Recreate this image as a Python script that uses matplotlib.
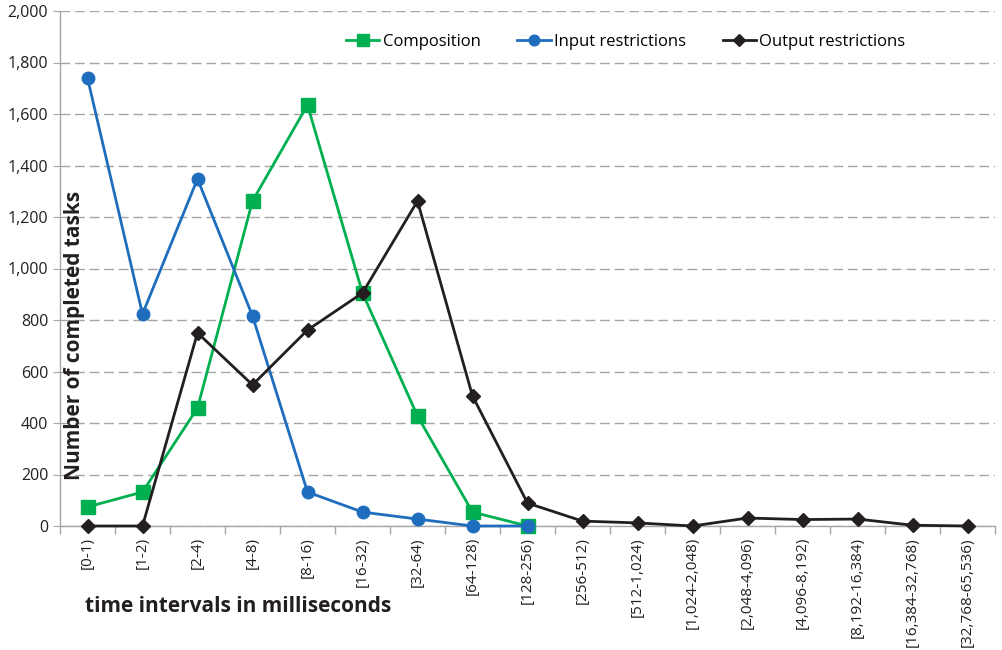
import numpy as np
import matplotlib.pyplot as plt
from matplotlib.ticker import FuncFormatter, FixedLocator

plt.rcParams['font.family'] = ['Open Sans', 'DejaVu Sans']

intervals = ["[0-1)", "[1-2)", "[2-4)", "[4-8)", "[8-16)", "[16-32)", "[32-64)",
             "[64-128)", "[128-256)", "[256-512)", "[512-1,024)", "[1,024-2,048)",
             "[2,048-4,096)", "[4,096-8,192)", "[8,192-16,384)", "[16,384-32,768)",
             "[32,768-65,536)"]

composition = [74, 132, 458, 1262, 1635, 905, 427, 54, 0]
input_restr = [1740, 823, 1348, 816, 132, 54, 27, 0, 0]
output_restr = [0, 0, 750, 548, 761, 905, 1262, 505, 89, 19, 12, 0, 31, 25, 27, 3, 0]

green = '#00B050'
blue = '#1F6EBE'
black = '#231F20'
grey = '#A6A6A6'

fig = plt.figure(figsize=(10.02, 6.5), dpi=100)
ax = fig.add_axes([60 / 1002, 124 / 650, 935 / 1002, 515 / 650])

x = np.arange(len(intervals))
ax.plot(x[:len(composition)], composition, color=green, lw=2.0, marker='s',
        ms=9.5, label='Composition', zorder=3, clip_on=False)
ax.plot(x[:len(input_restr)], input_restr, color=blue, lw=2.0, marker='o',
        ms=9, label='Input restrictions', zorder=4, clip_on=False)
ax.plot(x, output_restr, color=black, lw=2.0, marker='D',
        ms=7.5, label='Output restrictions', zorder=5, clip_on=False)

ax.set_xlim(-0.5, len(intervals) - 0.5)
ax.set_ylim(0, 2000)
ax.set_yticks(np.arange(0, 2001, 200))
ax.yaxis.set_major_formatter(FuncFormatter(lambda v, p: f"{int(v):,}"))
ax.grid(axis='y', color=grey, ls=(0, (7, 3.5)), lw=1.0)
ax.set_axisbelow(True)

ax.set_xticks(x)
ax.set_xticklabels(intervals, rotation=90, fontsize=11, color='#231F20')
ax.xaxis.set_minor_locator(FixedLocator(np.arange(-0.5, len(intervals), 1.0)))
ax.tick_params(axis='x', which='major', length=0, pad=8)
ax.tick_params(axis='x', which='minor', length=6, color=grey, width=1)
ax.tick_params(axis='y', length=5, color=grey, labelsize=11.5, labelcolor='#231F20')

for side in ['top', 'right']:
    ax.spines[side].set_visible(False)
for side in ['left', 'bottom']:
    ax.spines[side].set_color(grey)
    ax.spines[side].set_linewidth(1.0)

fig.text(75 / 1002, 1 - 335 / 650, "Number of completed tasks", rotation=90,
         ha='center', va='center', fontsize=15, fontweight='bold', color=black)
fig.text(85 / 1002, 1 - 607 / 650, "time intervals in milliseconds",
         ha='left', va='center', fontsize=15, fontweight='bold', color=black)

ax.legend(loc='upper center', bbox_to_anchor=(0.605, 0.985), ncol=3, frameon=False,
          fontsize=12, handlelength=2.0, handletextpad=0.2, columnspacing=2.2,
          markerscale=0.85)

fig.savefig("out.png", dpi=100)
